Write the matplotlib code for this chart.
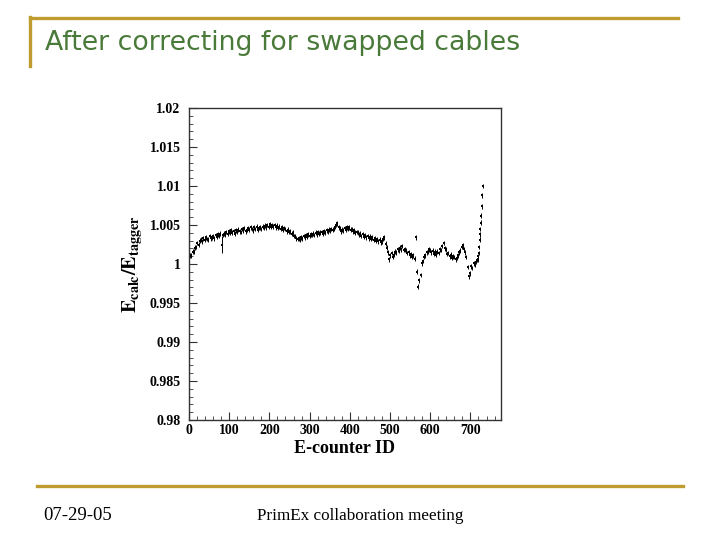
import numpy as np
import matplotlib
matplotlib.use('Agg')
import matplotlib.pyplot as plt
from matplotlib import ticker
from matplotlib.lines import Line2D

# E-counter IDs (every 3rd counter, then every counter in the last stretch)
ids = np.r_[np.arange(0, 717, 3), np.arange(717, 731)]

# E_calc / E_tagger
ratio = [
    1.0008, 1.0011, 1.0011, 1.0016, 1.0016, 1.0021, 1.0022, 1.0027, 1.0025, 1.0030,
    1.0031, 1.0029, 1.0033, 1.0031, 1.0034, 1.0032, 1.0031, 1.0036, 1.0033, 1.0034,
    1.0036, 1.0033, 1.0037, 1.0035, 1.0038, 1.0036, 1.0039, 1.0025, 1.0037, 1.0039,
    1.0038, 1.0041, 1.0039, 1.0042, 1.0040, 1.0043, 1.0040, 1.0042, 1.0039, 1.0043,
    1.0041, 1.0044, 1.0042, 1.0041, 1.0045, 1.0043, 1.0046, 1.0042, 1.0044, 1.0046,
    1.0044, 1.0047, 1.0045, 1.0043, 1.0047, 1.0045, 1.0048, 1.0044, 1.0046, 1.0047,
    1.0045, 1.0048, 1.0046, 1.0049, 1.0047, 1.0050, 1.0048, 1.0051, 1.0048, 1.0050,
    1.0048, 1.0050, 1.0047, 1.0049, 1.0046, 1.0048, 1.0045, 1.0047, 1.0044, 1.0046,
    1.0045, 1.0042, 1.0044, 1.0041, 1.0042, 1.0039, 1.0040, 1.0036, 1.0036, 1.0033,
    1.0032, 1.0033, 1.0031, 1.0034, 1.0033, 1.0036, 1.0034, 1.0037, 1.0035, 1.0038,
    1.0036, 1.0038, 1.0037, 1.0039, 1.0037, 1.0040, 1.0038, 1.0041, 1.0039, 1.0040,
    1.0041, 1.0039, 1.0042, 1.0040, 1.0043, 1.0042, 1.0044, 1.0043, 1.0045, 1.0044,
    1.0045, 1.0048, 1.0050, 1.0052, 1.0047, 1.0046, 1.0042, 1.0044, 1.0043, 1.0046,
    1.0044, 1.0047, 1.0045, 1.0047, 1.0044, 1.0045, 1.0042, 1.0043, 1.0040, 1.0041,
    1.0040, 1.0038, 1.0039, 1.0036, 1.0038, 1.0035, 1.0037, 1.0034, 1.0036, 1.0033,
    1.0035, 1.0032, 1.0034, 1.0031, 1.0033, 1.0030, 1.0032, 1.0029, 1.0031, 1.0028,
    1.0029, 1.0032, 1.0034, 1.0026, 1.0021, 1.0015, 1.0006, 1.0011, 1.0014, 1.0009,
    1.0012, 1.0016, 1.0015, 1.0019, 1.0017, 1.0021, 1.0019, 1.0023, 1.0018, 1.0019,
    1.0018, 1.0014, 1.0015, 1.0011, 1.0013, 1.0009, 1.0011, 1.0007, 1.0034, 0.9990,
    0.9971, 0.9979, 0.9986, 1.0001, 1.0004, 1.0009, 1.0011, 1.0015, 1.0016, 1.0019,
    1.0018, 1.0015, 1.0017, 1.0013, 1.0016, 1.0012, 1.0016, 1.0014, 1.0019, 1.0018,
    1.0023, 1.0027, 1.0020, 1.0019, 1.0013, 1.0014, 1.0010, 1.0012, 1.0008, 1.0010,
    1.0009, 1.0006, 1.0008, 1.0011, 1.0015, 1.0017, 1.0022, 1.0024, 1.0019, 1.0015,
    1.0009, 0.9996, 0.9984, 0.9988, 0.9997, 0.9995, 1.0001, 0.9999, 1.0003,
    1.0005, 1.0007, 1.0006, 1.0010, 1.0014, 1.0022, 1.0031, 1.0038, 1.0045, 1.0053,
    1.0062, 1.0074, 1.0088, 1.0100,
]
ratio = np.array(ratio)

err = np.full(len(ids), 0.0003)
err[ids == 81] = 0.0011   # the one long error bar near ID 81

gold = '#BF9B30'
green = '#4A7A3A'

plt.rcParams['mathtext.fontset'] = 'stix'

fig = plt.figure(figsize=(7.2, 5.4), dpi=100)
fig.patch.set_facecolor('white')

# slide decorations
fig.add_artist(Line2D([30/720, 678/720], [1-18/540, 1-18/540], color=gold, lw=2.4))
fig.add_artist(Line2D([30/720, 30/720], [1-17/540, 1-66/540], color=gold, lw=2.4))
fig.add_artist(Line2D([37/720, 683/720], [1-486/540, 1-486/540], color=gold, lw=2.4))
fig.text(45/720, 1-43/540, 'After correcting for swapped cables', color=green,
         fontsize=19.3, family='DejaVu Sans', va='center', ha='left')
fig.text(43/720, 1-516/540, '07-29-05', fontsize=13.5, family='Liberation Serif',
         va='center', ha='left')
fig.text(257/720, 1-516/540, 'PrimEx collaboration meeting', fontsize=12.3,
         family='Liberation Serif', va='center', ha='left')

ax = fig.add_axes([189/720, 1-420/540, 312/720, 312/540])
ax.errorbar(ids, ratio, yerr=err, fmt='s', ms=1.9, color='black',
            elinewidth=0.7, capsize=0, mew=0)

ax.set_xlim(0, 776)
ax.set_ylim(0.98, 1.02)
ax.xaxis.set_major_locator(ticker.MultipleLocator(100))
ax.xaxis.set_minor_locator(ticker.MultipleLocator(20))
ax.yaxis.set_major_locator(ticker.MultipleLocator(0.005))
ax.yaxis.set_minor_locator(ticker.MultipleLocator(0.001))
ax.yaxis.set_major_formatter(ticker.FuncFormatter(lambda v, p: ('%.3f' % v).rstrip('0').rstrip('.')))
ax.tick_params(which='both', direction='in', top=False, right=False, color='#333333')
ax.tick_params(which='major', length=6, width=0.8)
ax.tick_params(which='minor', length=3, width=0.6)
ax.tick_params(axis='y', pad=6)
ax.tick_params(axis='x', pad=3)
for lab in ax.get_xticklabels() + ax.get_yticklabels():
    lab.set_family('Liberation Serif')
    lab.set_fontweight('bold')
    lab.set_fontsize(10)
for s in ax.spines.values():
    s.set_color('#333333')
    s.set_linewidth(1.0)

ax.set_xlabel('E-counter ID', family='Liberation Serif', fontweight='bold',
              fontsize=13, labelpad=2)
ax.set_ylabel(r'$\mathbf{E_{calc}/E_{tagger}}$', fontsize=14.5, labelpad=3)

fig.savefig('out.png', dpi=100, facecolor='white')
